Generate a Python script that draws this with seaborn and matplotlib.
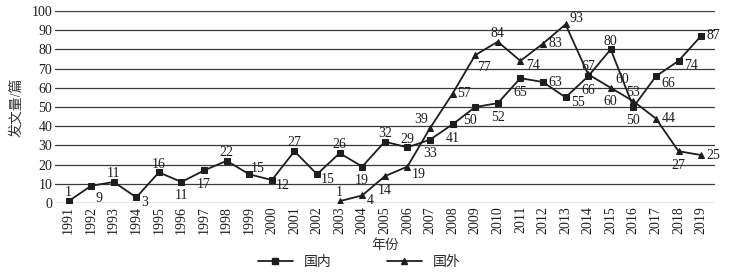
import matplotlib
matplotlib.use("Agg")
import matplotlib.pyplot as plt
import numpy as np
import pandas as pd
import seaborn as sns
from matplotlib.lines import Line2D

years_dom = list(range(1991, 2020))
dom = [1, 9, 11, 3, 16, 11, 17, 22, 15, 12, 27, 15, 26, 19, 32, 29, 33, 41,
       50, 52, 65, 63, 55, 66, 80, 50, 66, 74, 87]
years_for = list(range(2003, 2020))
foreign = [1, 4, 14, 19, 39, 57, 77, 84, 74, 83, 93, 67, 60, 53, 44, 27, 25]

# label offsets (points)
dom_off = [(0, 6), (6, -9), (0, 6), (6, -4), (0, 6), (0, -10), (0, -10), (0, 6),
           (6, 4), (8, -4), (0, 6), (8, -4), (0, 6), (0, -10), (0, 6), (0, 6),
           (0, -10), (0, -10), (-4, -10), (0, -10), (0, -10), (9, 0), (9, -4),
           (0, -10), (0, 6), (0, -10), (9, -5), (9, -3), (9, 0)]
for_off = [(0, 6), (6, -4), (0, -10), (8, -6), (-6, 6), (8, 0), (6, -9), (0, 6),
           (9, -3), (9, 0), (8, 4), (0, 6), (0, -10), (0, 6), (9, 0), (0, -10), (9, 0)]

df = pd.concat([
    pd.DataFrame({"年份": years_dom, "发文量": dom, "来源": "国内"}),
    pd.DataFrame({"年份": years_for, "发文量": foreign, "来源": "国外"}),
])

sns.set_style("white")
plt.rcParams["font.family"] = ["Liberation Serif", "Noto Sans CJK SC"]

c = "#1e1e1e"
fig = plt.figure(figsize=(7.33, 2.73), dpi=100)
ax = fig.add_axes([0.075, 0.256, 0.9, 0.704])

sns.lineplot(data=df, x="年份", y="发文量", style="来源",
             markers={"国内": "s", "国外": "^"}, dashes=False, color=c,
             markersize=5, linewidth=1.3, markeredgecolor=c, ax=ax, legend=False)

for x, y, o in zip(years_dom, dom, dom_off):
    ax.annotate(str(y), (x, y), xytext=o, textcoords="offset points",
                ha="center", va="center", fontsize=10, color=c)
for x, y, o in zip(years_for, foreign, for_off):
    ax.annotate(str(y), (x, y), xytext=o, textcoords="offset points",
                ha="center", va="center", fontsize=10, color=c)
ax.annotate("60", (2015, 60), xytext=(8, 6), textcoords="offset points",
            ha="center", va="center", fontsize=10, color=c)

ax.set_xlim(1990.4, 2019.6)
ax.set_ylim(0, 100)
ax.set_yticks(np.arange(0, 101, 10))
ax.set_xticks(years_dom)
ax.set_xticklabels([str(y) for y in years_dom], rotation=90)
ax.tick_params(axis="both", labelsize=10, length=0, pad=2, colors=c)
ax.grid(axis="y", color="#3a3a3a", linewidth=0.9)
for s in ax.spines.values():
    s.set_visible(False)
ax.set_axisbelow(True)

ax.set_xlabel("年份", fontsize=10, color="#333333", labelpad=4)
ax.set_ylabel("发文量/篇", fontsize=10, color="#333333", labelpad=6)

handles = [Line2D([], [], color=c, marker="s", markersize=5, linewidth=1.3),
           Line2D([], [], color=c, marker="^", markersize=5, linewidth=1.3)]
fig.legend(handles, ["国内", "国外"], loc="center", bbox_to_anchor=(0.49, 0.04),
           ncol=2, frameon=False, fontsize=10, handlelength=2.5, columnspacing=4)

fig.savefig("out.png", dpi=100)
